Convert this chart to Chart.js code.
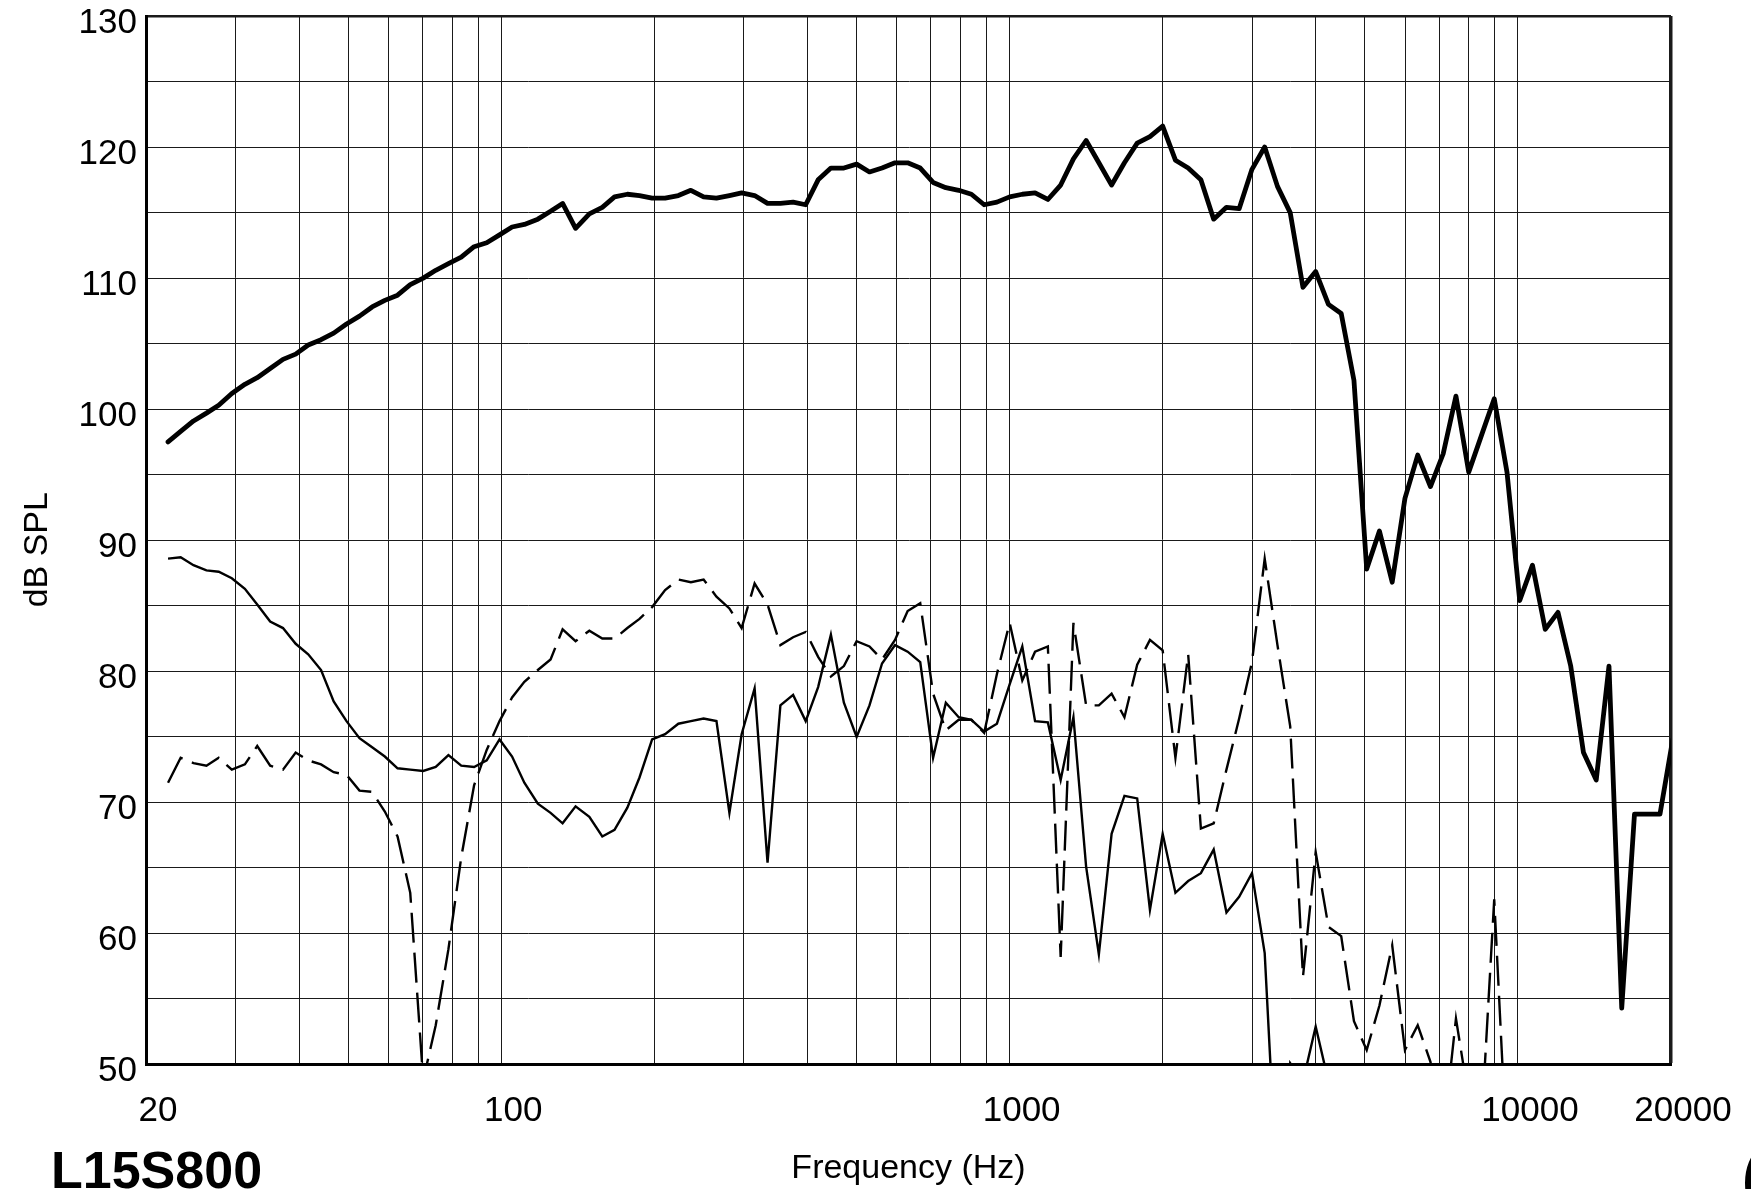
<!DOCTYPE html>
<html>
<head>
<meta charset="utf-8">
<script src="https://cdn.jsdelivr.net/npm/chart.js@4.4.1/dist/chart.umd.min.js"></script>
<style>
  html, body { margin: 0; padding: 0; background: #fff; }
  #wrap { position: relative; width: 1751px; height: 1189px; overflow: hidden; }
  #modelo { position: absolute; left: 51px; top: 1144px; font: bold 52px "Liberation Sans", Arial, sans-serif; line-height: 52px; color: #000; }
  #logo { position: absolute; left: 1745px; top: 1128px; width: 110px; height: 110px; border: 11px solid #000; border-radius: 50%; box-sizing: border-box; }
</style>
</head>
<body>
<div id="wrap">
  <canvas id="graficoResposta" width="1751" height="1189"></canvas>
  <div id="modelo">L15S800</div>
  <div id="logo"></div>
</div>
<script>
// frequencias de medicao (1/12 de oitava), Hz
const frequencias = [
  22.1, 23.4, 24.8, 26.3, 27.8, 29.5,
  31.3, 33.1, 35.1, 37.2, 39.4, 41.7, 44.2, 46.8, 49.6, 52.6, 55.7, 59.0,
  62.5, 66.2, 70.2, 74.3, 78.7, 83.4, 88.4, 93.6, 99.2, 105, 111, 118,
  125, 132, 140, 149, 158, 167, 177, 187, 198, 210, 223, 236,
  250, 265, 281, 297, 315, 334, 354, 375, 397, 420, 445, 472,
  500, 530, 561, 595, 630, 667, 707, 749, 794, 841, 891, 944,
  1000, 1059, 1122, 1189, 1260, 1335, 1414, 1498, 1587, 1682, 1782, 1888,
  2000, 2119, 2245, 2378, 2520, 2670, 2828, 2997, 3175, 3364, 3564, 3776,
  4000, 4238, 4490, 4757, 5040, 5339, 5657, 5993, 6350, 6727, 7127, 7551,
  8000, 8476, 8980, 9514, 10079, 10679, 11314, 11986, 12699, 13454, 14254, 15102,
  16000, 16951, 17959, 19027, 20159
];

// curva principal (linha grossa), dB SPL
const splEixo = [
  97.5, 98.3, 99.1, 99.7, 100.3, 101.2,
  101.9, 102.4, 103.1, 103.8, 104.2, 104.9, 105.3, 105.8, 106.5, 107.1, 107.8, 108.3,
  108.7, 109.5, 110.0, 110.6, 111.1, 111.6, 112.4, 112.7, 113.3, 113.9, 114.1, 114.5,
  115.1, 115.7, 113.8, 114.9, 115.4, 116.2, 116.4, 116.3, 116.1, 116.1, 116.3, 116.7,
  116.2, 116.1, 116.3, 116.5, 116.3, 115.7, 115.7, 115.8, 115.6, 117.5, 118.4, 118.4,
  118.7, 118.1, 118.4, 118.8, 118.8, 118.4, 117.3, 116.9, 116.7, 116.4, 115.6, 115.8,
  116.2, 116.4, 116.5, 116.0, 117.1, 119.1, 120.5, 118.8, 117.1, 118.8, 120.3, 120.8,
  121.6, 119.0, 118.4, 117.5, 114.5, 115.4, 115.3, 118.3, 120.0, 117.0, 115.0, 109.3,
  110.5, 108.0, 107.3, 102.2, 87.8, 90.7, 86.8, 93.2, 96.5, 94.1, 96.6, 101.0,
  95.2, 98.0, 100.8, 95.2, 85.4, 88.1, 83.2, 84.5, 80.4, 73.8, 71.7, 80.4,
  54.3, 69.1, 69.1, 69.1, 74.8
];

// linha fina continua
const splFina = [
  88.6, 88.7, 88.1, 87.7, 87.6, 87.1,
  86.3, 85.1, 83.8, 83.3, 82.1, 81.3, 80.1, 77.7, 76.2, 74.9, 74.2, 73.5,
  72.6, 72.5, 72.4, 72.7, 73.6, 72.8, 72.7, 73.2, 74.8, 73.5, 71.5, 69.9,
  69.2, 68.4, 69.7, 68.9, 67.4, 67.9, 69.6, 71.9, 74.8, 75.2, 76.0, 76.2,
  76.4, 76.2, 69.2, 75.2, 78.7, 65.4, 77.4, 78.2, 76.2, 78.8, 82.8, 77.6,
  75.0, 77.4, 80.6, 82.0, 81.5, 80.7, 73.4, 77.6, 76.5, 76.3, 75.4, 76.0,
  79.0, 81.9, 76.2, 76.1, 71.7, 76.5, 65.1, 58.4, 67.6, 70.5, 70.3, 61.8,
  67.6, 63.1, 64.0, 64.6, 66.4, 61.6, 62.8, 64.6, 58.5, 39.7, 50.1, 48.7,
  52.9, 48.7, null, null, null, null, null, null, null, null, null, null,
  null, null, null, null, null, null, null, null, null, null, null, null,
  null, null, null, null, null
];

// linha tracejada
const splTracejada = [
  71.5, 73.4, 73.0, 72.8, 73.4, 72.5,
  72.9, 74.3, 72.8, 72.5, 73.8, 73.2, 72.9, 72.3, 72.1, 70.9, 70.8, 69.3,
  67.4, 63.1, 48.8, 53.0, 58.8, 65.8, 71.3, 74.0, 76.2, 78.0, 79.2, 80.1,
  80.9, 83.2, 82.3, 83.1, 82.5, 82.5, 83.3, 84.0, 84.9, 86.2, 87.0, 86.8,
  87.0, 85.7, 84.8, 83.3, 86.7, 85.1, 82.0, 82.6, 83.0, 81.1, 79.6, 80.4,
  82.3, 81.9, 80.9, 82.4, 84.6, 85.2, 78.3, 75.5, 76.3, 76.3, 75.3, 79.8,
  83.7, 79.3, 81.5, 81.9, 58.2, 83.7, 77.4, 77.4, 78.3, 76.5, 80.5, 82.4,
  81.6, 73.4, 81.3, 68.0, 68.4, 72.5, 76.4, 80.7, 88.6, 82.0, 75.8, 56.7,
  66.2, 60.5, 59.8, 53.3, 51.1, 54.5, 59.1, 51.1, 53.0, 50.2, 44.5, 53.5,
  47.4, 45.4, 62.6, 43.0, null, null, null, null, null, null, null, null,
  null, null, null, null, null
];

// linhas verticais da grade e rotulos do eixo X
const gradeX = [20, 30, 40, 50, 60, 70, 80, 90,
  100, 200, 300, 400, 500, 600, 700, 800, 900,
  1000, 2000, 3000, 4000, 5000, 6000, 7000, 8000, 9000,
  10000, 20000];
const rotulosX = [20, 100, 1000, 10000, 20000];
const rotulosY = [50, 60, 70, 80, 90, 100, 110, 120, 130];

function pontos(valores) {
  return frequencias.map((f, i) => ({ x: f, y: valores[i] }));
}

Chart.defaults.font.family = '"Liberation Sans", Arial, sans-serif';
Chart.defaults.color = '#000';

const ctx = document.getElementById('graficoResposta');

const graficoResposta = new Chart(ctx.getContext('2d'), {
  type: 'line',
  data: {
    datasets: [
      {
        data: pontos(splEixo),
        borderColor: '#000',
        borderWidth: 4.8,
        borderJoinStyle: 'round',
        borderCapStyle: 'round',
        pointRadius: 0,
        clip: 0
      },
      {
        data: pontos(splFina),
        borderColor: '#000',
        borderWidth: 2.4,
        pointRadius: 0,
        clip: 0
      },
      {
        data: pontos(splTracejada),
        borderColor: '#000',
        borderWidth: 2.4,
        borderDash: [30, 10],
        pointRadius: 0,
        clip: 0
      }
    ]
  },
  options: {
    responsive: false,
    devicePixelRatio: 1,
    animation: false,
    layout: { padding: { top: 16, right: 80, bottom: 0, left: 0 } },
    plugins: {
      legend: { display: false },
      tooltip: { enabled: false }
    },
    scales: {
      x: {
        type: 'logarithmic',
        min: 20,
        max: 20000,
        afterBuildTicks: (s) => { s.ticks = gradeX.map(v => ({ value: v })); },
        afterFit: (s) => { s.height = 124.5; s.paddingLeft = 0; s.paddingRight = 0; },
        ticks: {
          autoSkip: false,
          maxRotation: 0,
          padding: 26,
          labelOffset: 12,
          font: { size: 35 },
          callback: (v) => rotulosX.includes(v) ? String(v) : ''
        },
        grid: {
          drawTicks: false,
          color: '#1a1a1a',
          lineWidth: (c) => (c.tick && c.tick.value === 20000) ? 3.5 : 1
        },
        border: { display: true, color: '#000', width: 3 },
        title: {
          display: true,
          text: 'Frequency (Hz)',
          font: { size: 34 },
          padding: { top: 0, bottom: 0 }
        }
      },
      y: {
        min: 50,
        max: 130,
        afterFit: (s) => { s.width = 146; s.paddingTop = 0; s.paddingBottom = 0; },
        ticks: {
          stepSize: 5,
          autoSkip: false,
          padding: 9,
          labelOffset: 7,
          font: { size: 35 },
          callback: (v) => rotulosY.includes(v) ? String(v) : ''
        },
        grid: {
          drawTicks: false,
          color: '#1a1a1a',
          lineWidth: (c) => (c.tick && c.tick.value === 130) ? 2.5 : 1
        },
        border: { display: true, color: '#000', width: 3 },
        title: {
          display: true,
          text: 'dB SPL  ',
          font: { size: 34 },
          padding: { top: 17, bottom: 0 }
        }
      }
    }
  }
});
</script>
</body>
</html>
